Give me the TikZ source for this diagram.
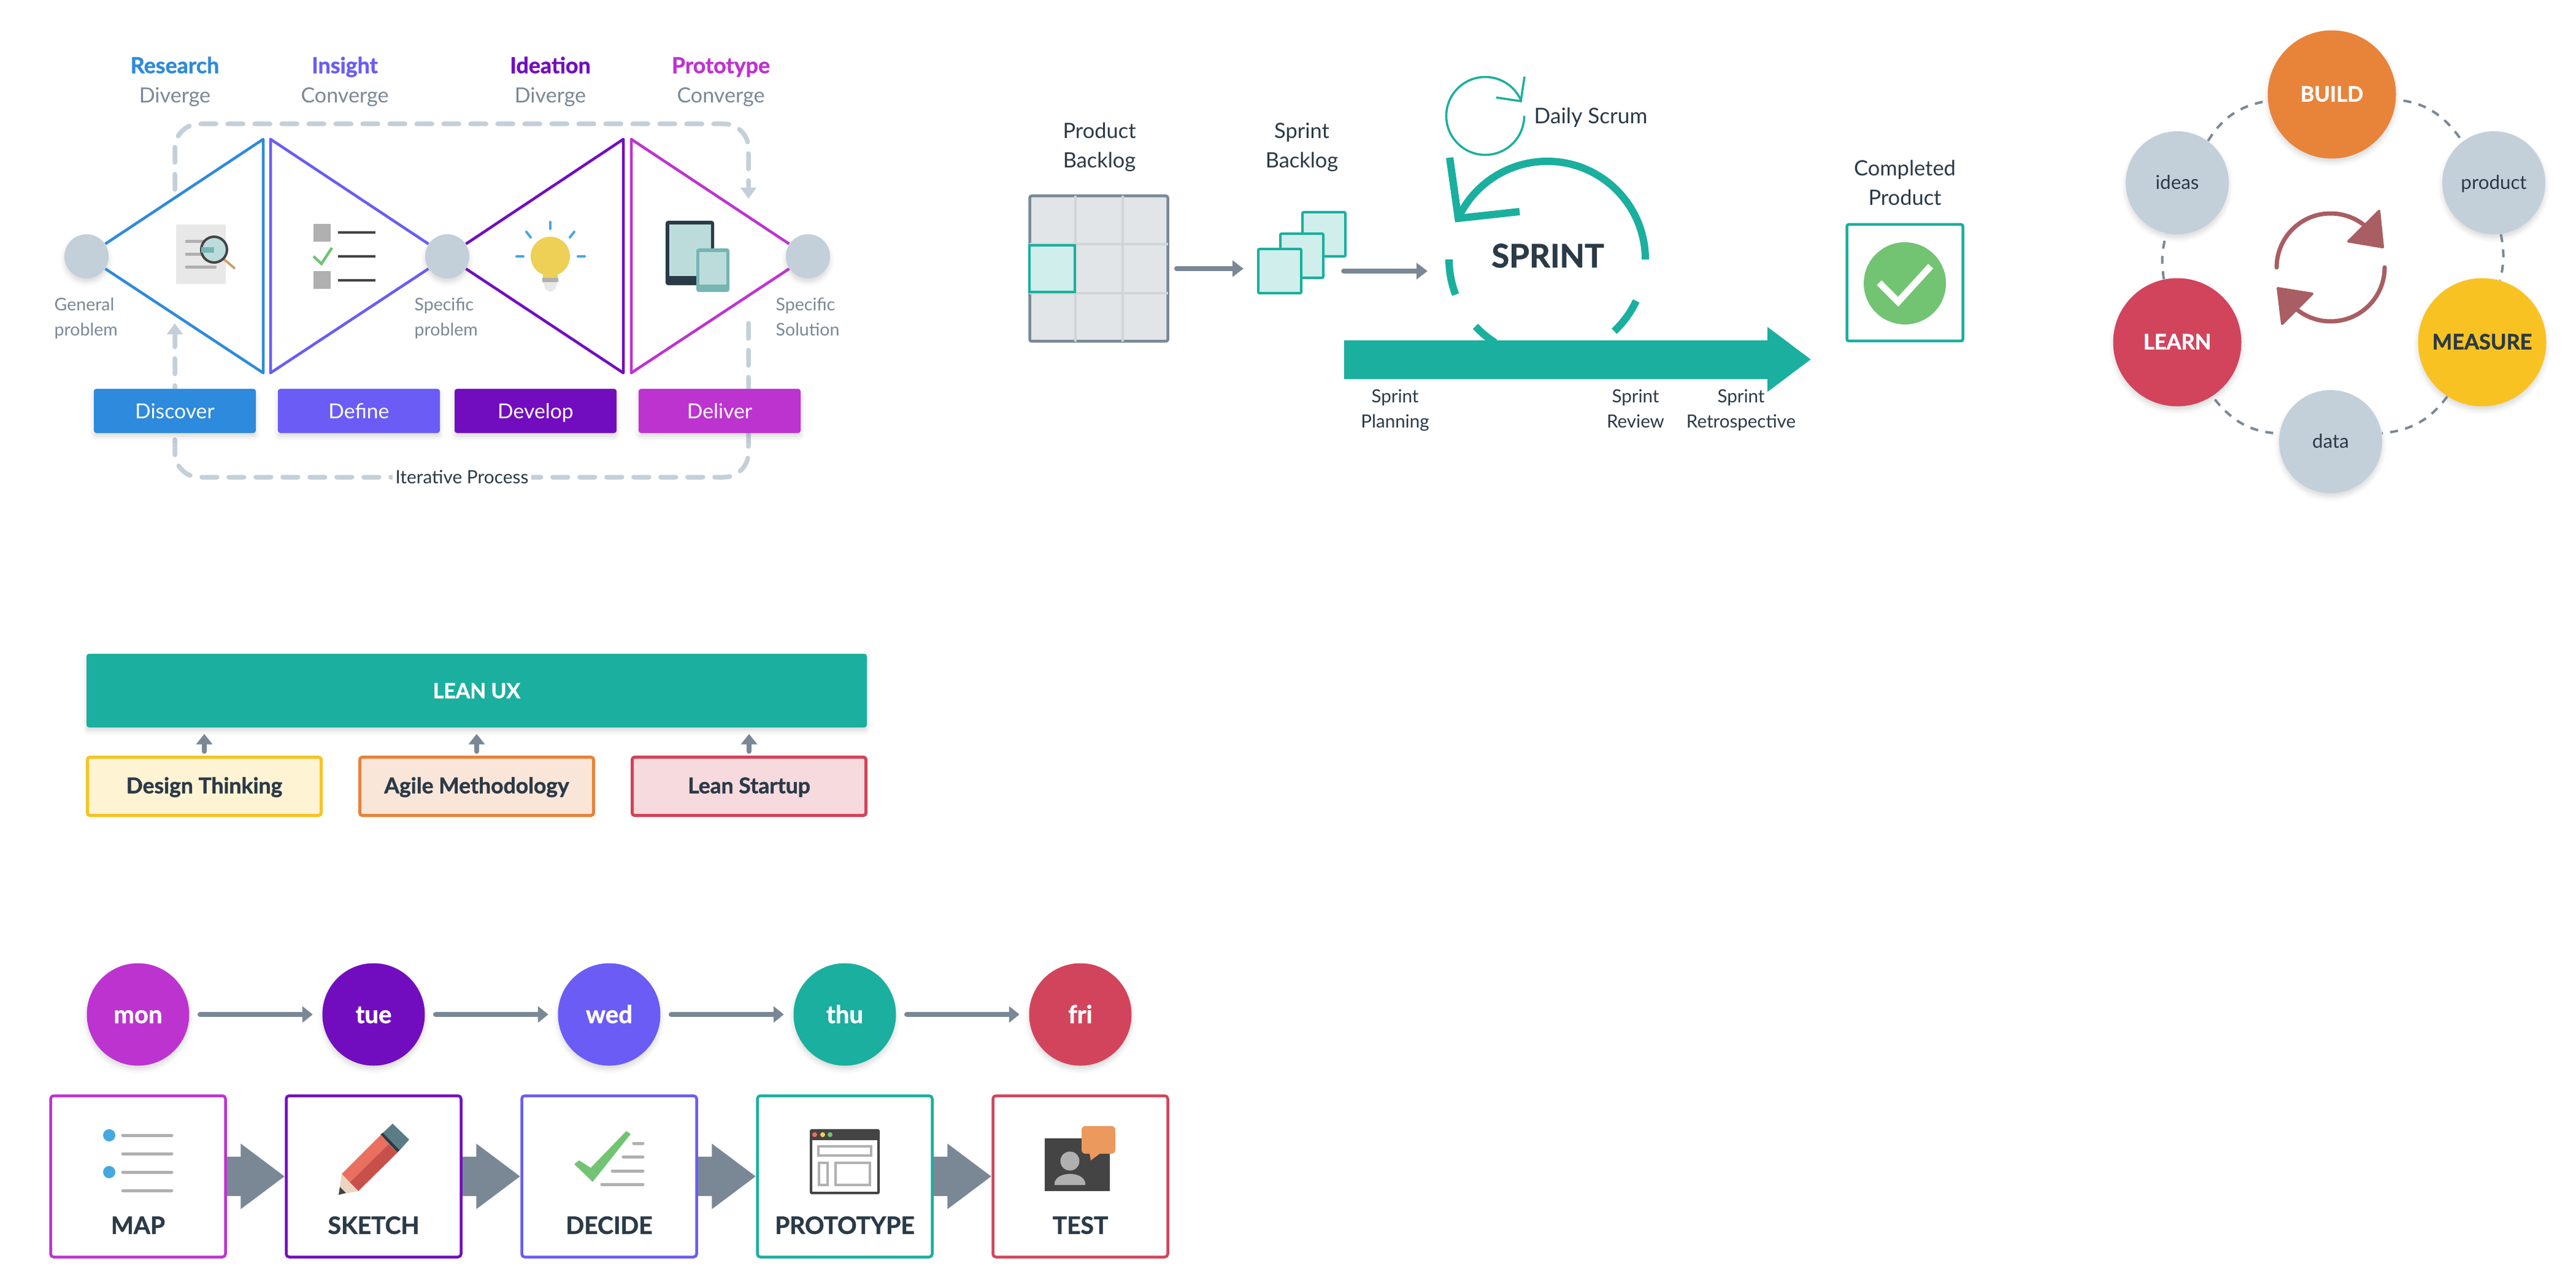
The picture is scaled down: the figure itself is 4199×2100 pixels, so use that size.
\documentclass[tikz,border=0pt]{standalone}
\usepackage{fontspec}
\setmainfont{Lato}[BoldFeatures={FakeBold=1.2}]
\usetikzlibrary{arrows.meta,shadows.blur}
\definecolor{teal1}{HTML}{1AAF9E}
\definecolor{tealpale}{HTML}{D0EEEB}
\definecolor{blue1}{HTML}{2E8ADC}
\definecolor{indigo1}{HTML}{6A5CF5}
\definecolor{purple1}{HTML}{720DBF}
\definecolor{magenta1}{HTML}{BD33D0}
\definecolor{orange1}{HTML}{E8833A}
\definecolor{yellow1}{HTML}{F8C322}
\definecolor{red1}{HTML}{D2445C}
\definecolor{mist}{HTML}{C3D0DA}
\definecolor{slate}{HTML}{7A8896}
\definecolor{ink}{HTML}{2B3A47}
\definecolor{iconlight}{HTML}{BCDCDC}
\definecolor{icontint}{HTML}{76B5B3}
\definecolor{icongrey}{HTML}{B0B0B0}
\definecolor{icondark}{HTML}{444444}
\definecolor{iconblue}{HTML}{45A8E0}
\definecolor{icongreen}{HTML}{72C472}
\definecolor{iconbulb}{HTML}{EDD055}
\definecolor{iconhandle}{HTML}{C8A070}
\definecolor{pencilcap}{HTML}{5A7C85}
\definecolor{pencillight}{HTML}{E96F5F}
\definecolor{pencildark}{HTML}{C8504A}
\definecolor{pencilwood}{HTML}{EAD5C0}
\definecolor{bubble}{HTML}{EB995C}
\definecolor{cycle1}{HTML}{A85E62}
\definecolor{gridfill}{HTML}{E1E5E8}
\definecolor{gridline}{HTML}{D0D5D9}
\tikzstyle{softshadow}=[blur shadow={shadow xshift=0mm, shadow yshift=-.6mm, shadow blur radius=.8mm, shadow opacity=15}]
\tikzstyle{headword}=[inner sep=0, text height=7pt, text depth=0pt, font=\fontsize{10.2}{11}\selectfont\bfseries]
\tikzstyle{subword}=[inner sep=0, text height=7pt, text depth=0pt, text=slate, font=\fontsize{9.7}{11}\selectfont]
\tikzstyle{smallnote}=[inner sep=0, text=slate, align=left, anchor=base west, font=\fontsize{8.1}{11.7}\selectfont]
\tikzstyle{dot}=[circle, fill=mist, minimum size=7.2mm, inner sep=0, softshadow]
\tikzstyle{tri}=[line width=.45mm, line join=round]
\tikzstyle{phase}=[rectangle, rounded corners=.4mm, minimum width=26.4mm, minimum height=7.2mm, text height=7pt, text depth=0pt, text=white, font=\fontsize{9.6}{11}\selectfont, softshadow]
\tikzstyle{loopline}=[mist, line width=.75mm, line cap=round, rounded corners=4mm, dash pattern=on 2.5mm off 1.9mm, -{Triangle[length=1.8mm,width=2.5mm]}]
\tikzstyle{toplabel}=[inner sep=0, text=ink, align=center, anchor=base, font=\fontsize{9.8}{13.7}\selectfont]
\tikzstyle{tinylabel}=[inner sep=0, text=ink, align=center, anchor=base, font=\fontsize{8.4}{11.4}\selectfont]
\tikzstyle{flow}=[slate, line width=.75mm, line cap=round, -{Triangle[length=1.8mm,width=2.6mm]}]
\tikzstyle{card}=[rectangle, draw=teal1, fill=tealpale, line width=.4mm, rounded corners=.2mm, minimum width=7mm, minimum height=7.2mm]
\tikzstyle{sprintarc}=[teal1, line width=1.2mm]
\tikzstyle{big}=[circle, minimum size=20.9mm, inner sep=0, text height=6.6pt, text depth=0pt, text=white, font=\fontsize{9.8}{11}\selectfont\bfseries, softshadow]
\tikzstyle{small}=[circle, fill=mist, minimum size=16.8mm, inner sep=0, text height=6pt, text depth=0pt, text=ink, font=\fontsize{8.9}{11}\selectfont, softshadow]
\tikzstyle{ringdash}=[slate, line width=.4mm, dash pattern=on 1.3mm off 1.2mm]
\tikzstyle{cycletip}=[cycle1, fill=cycle1, line width=.4mm, line join=round]
\tikzstyle{method}=[rectangle, line width=.5mm, rounded corners=.4mm, minimum width=38.1mm, minimum height=9.5mm, text height=6.5pt, text depth=0pt, text=ink, font=\fontsize{10.1}{11}\selectfont\bfseries]
\tikzstyle{liftarrow}=[slate, line width=.8mm, line cap=round, shorten <=.7mm, shorten >=1mm, -{Triangle[length=1.7mm,width=2.6mm]}]
\tikzstyle{day}=[circle, minimum size=16.7mm, inner sep=0, text height=8pt, text depth=0pt, text=white, font=\fontsize{11.4}{13}\selectfont\bfseries, softshadow]
\tikzstyle{dayarrow}=[slate, line width=.85mm, line cap=round, shorten <=1.7mm, shorten >=1.5mm, -{Triangle[length=1.7mm,width=2.6mm]}]
\tikzstyle{stage}=[rectangle, draw, fill=white, line width=.45mm, rounded corners=.5mm, minimum width=28.5mm, minimum height=26.3mm]
\tikzstyle{stagename}=[inner sep=0, text height=8.4pt, text depth=0pt, text=ink, font=\fontsize{11.1}{13}\selectfont\bfseries]
\tikzstyle{bigarrow}=[slate, line width=6.4mm, -{Triangle[length=7.2mm,width=10.2mm]}]
\tikzstyle{listline}=[icongrey, line width=.5mm, line cap=round]
\begin{document}
\begin{tikzpicture}[x=.1mm, y=-.1mm]
            \useasboundingbox (0,0) rectangle (4199,2100);

            \node [headword, text=blue1] (research) at (285,107) {Research};
            \node [headword, text=indigo1] (insight) at (562,107) {Insight};
            \node [headword, text=purple1] (ideation) at (897,107) {Ideation};
            \node [headword, text=magenta1] (prototypeword) at (1175,107) {Prototype};
            \node [subword] (divone) at (285,155) {Diverge};
            \node [subword] (conone) at (562,155) {Converge};
            \node [subword] (divtwo) at (897,155) {Diverge};
            \node [subword] (contwo) at (1175,155) {Converge};

            \coordinate (loopstart) at (285,309);
            \coordinate (loopleft) at (285,202);
            \coordinate (loopright) at (1220,202);
            \coordinate (loopend) at (1220,324);
            \coordinate (backstart) at (1220,527);
            \coordinate (backright) at (1220,778);
            \coordinate (backleft) at (285,778);
            \coordinate (backend) at (285,527);
            \draw[loopline] (loopstart) -- (loopleft) -- (loopright) -- (loopend);
            \draw[loopline] (backstart) -- (backright) -- (backleft) -- (backend);

            \node [dot] (general) at (141,418) {};
            \node [dot, right of=general, node distance=5.88cm] (specific) {};
            \node [dot, right of=specific, node distance=5.88cm] (solution) {};
            \coordinate (rtop) at (429,227);
            \coordinate (rbot) at (429,608);
            \coordinate (itop) at (441,227);
            \coordinate (ibot) at (441,608);
            \coordinate (dtop) at (1016,227);
            \coordinate (dbot) at (1016,608);
            \coordinate (ptop) at (1029,227);
            \coordinate (pbot) at (1029,608);
            \draw[tri, blue1] (general) -- (rtop) -- (rbot) -- (general);
            \draw[tri, indigo1] (specific) -- (itop) -- (ibot) -- (specific);
            \draw[tri, purple1] (specific) -- (dtop) -- (dbot) -- (specific);
            \draw[tri, magenta1] (solution) -- (ptop) -- (pbot) -- (solution);

            \node [smallnote] (generalnote) at (88,548) {General\\problem};
            \node [smallnote] (specificnote) at (675,548) {Specific\\problem};
            \node [smallnote] (solutionnote) at (1264,548) {Specific\\Solution};

            \fill[black!9] (287,366) rectangle (368,463);
            \draw[listline] (304,394) -- (351,394);
            \draw[listline] (304,415) -- (351,415);
            \draw[listline] (304,436) -- (351,436);
            \draw[iconhandle, line width=.4mm] (362,420) -- (383,438);
            \draw[icondark, fill=iconlight, line width=.4mm] (349,407) circle [radius=2.1mm];
            \fill[icontint] (328,403) rectangle (349,412);

            \fill[icongrey] (511,365) rectangle (539,394);
            \fill[icongrey] (511,442) rectangle (539,471);
            \draw[icondark, line width=.45mm] (551,379) -- (612,379);
            \draw[icondark, line width=.45mm] (551,418) -- (612,418);
            \draw[icondark, line width=.45mm] (551,457) -- (612,457);
            \draw[icongreen, line width=.45mm] (511,418) -- (524,430) -- (541,404);

            \fill[black!9] (885,458) -- (909,458) -- (905,472) -- (897,476) -- (889,472) -- cycle;
            \fill[icongrey] (884,453) rectangle (910,460);
            \fill[iconbulb] (897,418) circle [radius=3.2mm];
            \fill[iconbulb] (885,440) rectangle (909,453);
            \draw[iconblue, line width=.4mm, line cap=round] (897,362) -- (897,373);
            \draw[iconblue, line width=.4mm, line cap=round] (858,378) -- (865,387);
            \draw[iconblue, line width=.4mm, line cap=round] (936,378) -- (929,387);
            \draw[iconblue, line width=.4mm, line cap=round] (842,418) -- (853,418);
            \draw[iconblue, line width=.4mm, line cap=round] (942,418) -- (953,418);

            \fill[ink, rounded corners=.4mm] (1085,360) rectangle (1164,465);
            \fill[iconlight] (1091,366) rectangle (1159,450);
            \fill[icontint, rounded corners=.4mm] (1135,405) rectangle (1189,476);
            \fill[iconlight] (1140,411) rectangle (1184,464);

            \node [phase, fill=blue1] (discover) at (285,670) {Discover};
            \node [phase, fill=indigo1, right of=discover, node distance=3cm] (define) {Define};
            \node [phase, fill=purple1, right of=define, node distance=2.88cm] (develop) {Develop};
            \node [phase, fill=magenta1, right of=develop, node distance=3cm] (deliver) {Deliver};
            \node [fill=white, inner sep=.5mm, text height=5.7pt, text depth=0pt, text=ink, font=\fontsize{8.5}{10}\selectfont] (iterative) at (753,778) {Iterative Process};

            \node [toplabel] (productbacklog) at (1792,274) {Product\\Backlog};
            \node [toplabel] (sprintbacklog) at (2122,274) {Sprint\\Backlog};
            \node [toplabel] (completed) at (3105,335) {Completed\\Product};
            \node [rectangle, draw=slate, fill=gridfill, line width=.45mm, rounded corners=.3mm, minimum width=22.5mm, minimum height=23.7mm] (backlog) at (1791,438) {};
            \draw[gridline, line width=.4mm] (1753,319) -- (1753,557);
            \draw[gridline, line width=.4mm] (1830,319) -- (1830,557);
            \draw[gridline, line width=.4mm] (1678,398) -- (1904,398);
            \draw[gridline, line width=.4mm] (1678,478) -- (1904,478);
            \node [rectangle, draw=teal1, fill=tealpale, line width=.4mm, minimum width=7.4mm, minimum height=7.6mm] (backlogcell) at (1715,438) {};
            \node [card] (cardthree) at (2158,382) {};
            \node [card] (cardtwo) at (2122,417) {};
            \node [card] (cardone) at (2086,442) {};
            \path[flow, shorten <=1.2mm, shorten >=2.2mm] (backlog.east) edge (backlog.east -| cardone.west);
            \coordinate (sprintfrom) at (2190,442);
            \coordinate (sprintinto) at (2327,442);
            \path[flow] (sprintfrom) edge (sprintinto);

            \node [inner sep=0, text height=10.8pt, text depth=0pt, text=ink, font=\fontsize{15}{17}\selectfont\bfseries] (sprint) at (2523,417) {SPRINT};
            \coordinate (sprintmid) at (2522,423);
            \draw[sprintarc] (sprintmid) ++(0:16mm) arc[start angle=0, end angle=153, radius=16mm];
            \draw[sprintarc] (sprintmid) ++(180:16mm) arc[start angle=180, end angle=201, radius=16mm];
            \draw[sprintarc] (sprintmid) ++(223:16mm) arc[start angle=223, end angle=238, radius=16mm];
            \draw[sprintarc] (sprintmid) ++(-25:16mm) arc[start angle=-25, end angle=-47, radius=16mm];
            \draw[sprintarc] (2363,257) -- (2377,356) -- (2477,345);

            \coordinate (scrummid) at (2421,189);
            \draw[teal1, line width=.35mm] (scrummid) ++(0:6.35mm) arc[start angle=0, end angle=-338, radius=6.35mm];
            \draw[teal1, line width=.35mm] (2485,125) -- (2479,165) -- (2439,159);
            \node [inner sep=0, text height=6.2pt, text depth=0pt, text=ink, anchor=west, font=\fontsize{10}{11}\selectfont] (dailyscrum) at (2500,191) {Daily Scrum};

            \coordinate (timestart) at (2191,586);
            \coordinate (timeend) at (2952,586);
            \path[teal1, line width=6.3mm, -{Triangle[length=7.1mm,width=10.1mm]}] (timestart) edge (timeend);
            \node [tinylabel] (planning) at (2274,697) {Sprint\\Planning};
            \node [tinylabel] (review) at (2666,697) {Sprint\\Review};
            \node [tinylabel] (retro) at (2838,697) {Sprint\\Retrospective};

            \node [rectangle, draw=teal1, fill=white, line width=.45mm, rounded corners=.3mm, minimum width=18.9mm, minimum height=19mm] (product) at (3105,461) {};
            \fill[icongreen] (3105,462) circle [radius=6.7mm];
            \draw[white, line width=1.1mm] (3063,461) -- (3094,492) -- (3147,434);

            \coordinate (cyclemid) at (3799,436);
            \node [small] (ideas) at (3549,298) {ideas};
            \node [small] (productword) at (4065,298) {product};
            \node [small] (data) at (3799,720) {data};
            \node [big, fill=orange1] (build) at (3801,154) {BUILD};
            \node [big, fill=yellow1, text=ink] (measure) at (4046,558) {MEASURE};
            \node [big, fill=red1] (learn) at (3549,558) {LEARN};
            \path[ringdash, shorten <=1.2mm] (build) edge[bend left=24] (productword);
            \path[ringdash] (productword) edge[bend left=12] (measure);
            \path[ringdash] (measure) edge[bend left=24] (data);
            \path[ringdash, shorten <=1mm] (data) edge[bend left=24] (learn);
            \path[ringdash] (learn) edge[bend left=12] (ideas);
            \path[ringdash] (ideas) edge[bend left=24] (build);
            \draw[cycle1, line width=.7mm, line cap=round] (cyclemid) ++(180:8.8mm) arc[start angle=180, end angle=42, radius=8.8mm];
            \draw[cycle1, line width=.7mm, line cap=round] (cyclemid) ++(0:8.8mm) arc[start angle=0, end angle=-138, radius=8.8mm];
            \draw[cycletip] (3878,344) -- (3884,403) -- (3828,393.5) -- cycle;
            \draw[cycletip] (3720,528) -- (3713,470) -- (3769,479) -- cycle;

            \node [rectangle, fill=teal1, rounded corners=.4mm, minimum width=127.2mm, minimum height=12mm, text height=7pt, text depth=0pt, text=white, font=\fontsize{9.6}{11}\selectfont\bfseries, softshadow] (leanux) at (777,1126) {LEAN UX};
            \node [method, draw=yellow1, fill=yellow1!20] (design) at (333,1282) {Design Thinking};
            \node [method, draw=orange1, fill=orange1!20, right of=design, node distance=4.44cm] (agile) {Agile Methodology};
            \node [method, draw=red1, fill=red1!20, right of=agile, node distance=4.44cm] (startup) {Lean Startup};
            \path[liftarrow] (design.north) edge (design.north |- leanux.south);
            \path[liftarrow] (agile.north) edge (agile.north |- leanux.south);
            \path[liftarrow] (startup.north) edge (startup.north |- leanux.south);

            \node [day, fill=magenta1] (mon) at (225,1654) {mon};
            \node [day, fill=purple1, right of=mon, node distance=3.84cm] (tue) {tue};
            \node [day, fill=indigo1, right of=tue, node distance=3.84cm] (wed) {wed};
            \node [day, fill=teal1, right of=wed, node distance=3.84cm] (thu) {thu};
            \node [day, fill=red1, right of=thu, node distance=3.84cm] (fri) {fri};
            \path[dayarrow] (mon) edge (tue);
            \path[dayarrow] (tue) edge (wed);
            \path[dayarrow] (wed) edge (thu);
            \path[dayarrow] (thu) edge (fri);

            \node [stage, draw=magenta1] (map) at (225,1918) {};
            \node [stage, draw=purple1, right of=map, node distance=3.84cm] (sketch) {};
            \node [stage, draw=indigo1, right of=sketch, node distance=3.84cm] (decide) {};
            \node [stage, draw=teal1, right of=decide, node distance=3.84cm] (prototype) {};
            \node [stage, draw=red1, right of=prototype, node distance=3.84cm] (test) {};
            \path[bigarrow] (map) edge (sketch);
            \path[bigarrow] (sketch) edge (decide);
            \path[bigarrow] (decide) edge (prototype);
            \path[bigarrow] (prototype) edge (test);
            \node [stagename] (mapname) at (225,1997) {MAP};
            \node [stagename] (sketchname) at (609,1997) {SKETCH};
            \node [stagename] (decidename) at (993,1997) {DECIDE};
            \node [stagename] (prototypename) at (1377,1997) {PROTOTYPE};
            \node [stagename] (testname) at (1761,1997) {TEST};

            \fill[iconblue] (178,1851) circle [radius=1mm];
            \fill[iconblue] (178,1911) circle [radius=1mm];
            \draw[listline] (200,1851) -- (280,1851);
            \draw[listline] (200,1881) -- (280,1881);
            \draw[listline] (200,1911) -- (280,1911);
            \draw[listline] (200,1941) -- (280,1941);

            \fill[pencilcap] (640,1832) -- (667,1858) -- (650,1877) -- (621,1850) -- cycle;
            \fill[ink] (620,1850) -- (624,1847) -- (651,1875) -- (648,1879) -- cycle;
            \fill[pencillight] (621,1850) -- (634,1865) -- (570,1928) -- (557,1914) -- cycle;
            \fill[pencildark] (634,1865) -- (648,1879) -- (584,1942) -- (570,1928) -- cycle;
            \fill[pencilwood] (557,1914) -- (584,1942) -- (552,1948) -- cycle;
            \fill[icondark] (554,1935) -- (564,1945) -- (552,1948) -- cycle;

            \fill[icongreen] (936,1898) -- (944,1892) -- (963,1904) -- (1021,1844) -- (1028,1849) -- (966,1927) -- cycle;
            \draw[listline] (1033,1864) -- (1048,1864);
            \draw[listline] (1016,1886) -- (1048,1886);
            \draw[listline] (998,1909) -- (1048,1909);
            \draw[listline] (981,1931) -- (1048,1931);

            \fill[icondark, rounded corners=.3mm] (1320,1841) rectangle (1434,1947);
            \fill[white] (1324,1859) rectangle (1430,1943);
            \fill[pencillight] (1328,1850) circle [radius=.4mm];
            \fill[iconbulb] (1341,1850) circle [radius=.4mm];
            \fill[icongreen] (1353,1850) circle [radius=.4mm];
            \draw[icongrey, line width=.4mm] (1334,1869) rectangle (1420,1884);
            \draw[icongrey, line width=.4mm] (1335,1896) rectangle (1349,1932);
            \draw[icongrey, line width=.4mm] (1362,1896) rectangle (1418,1932);

            \fill[icondark] (1703,1856) rectangle (1809,1942);
            \fill[icongrey] (1744,1893) circle [radius=1.55mm];
            \fill[icongrey] (1719,1932) -- (1719,1928) .. controls (1722,1917) and (1735,1914) .. (1744,1914) .. controls (1753,1914) and (1766,1917) .. (1769,1928) -- (1769,1932) -- cycle;
            \fill[bubble, rounded corners=.6mm] (1763,1836) rectangle (1818,1881);
            \fill[bubble] (1776,1880) -- (1794,1880) -- (1778,1892) -- cycle;
        \end{tikzpicture}
\end{document}
